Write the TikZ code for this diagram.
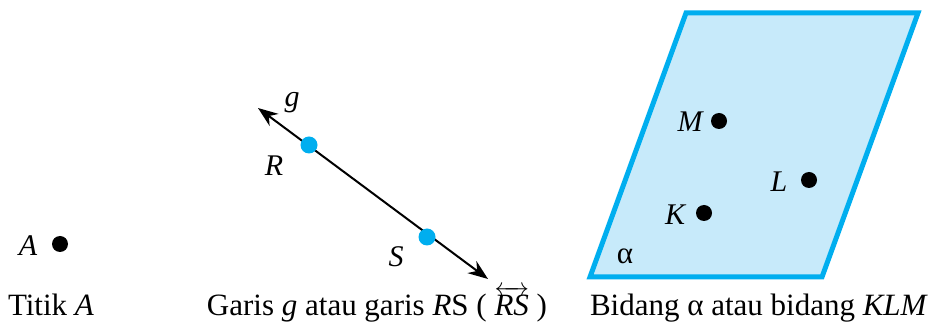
\documentclass[tikz,border=0pt]{standalone}
\usepackage{amsmath}
\usepackage{fontspec}
\setmainfont{Liberation Serif}
\usetikzlibrary{arrows.meta}
\definecolor{sky}{RGB}{0,174,239}
\definecolor{skyfill}{RGB}{199,234,250}
\tikzset{
	dot/.style={circle,fill=black,inner sep=0pt,minimum size=16pt},
	bluedot/.style={circle,fill=sky,inner sep=0pt,minimum size=17pt},
	lbl/.style={font=\fontsize{30}{34}\selectfont\itshape,inner sep=0pt},
	caption/.style={anchor=base,inner sep=0pt}
}

\begin{document}
\begin{tikzpicture}[x=1pt,y=-1pt,line width=2.5pt,font=\fontsize{31}{36}\selectfont]
\useasboundingbox (0,0) rectangle (932,328);

% point
\node[dot] (A) at (60,244) {};
\node[lbl] (a) at (28,246) {A};

% line
\coordinate (g1) at (258,108);
\coordinate (g2) at (488,279);
\draw[{Stealth[length=20pt,width=15pt]}-{Stealth[length=20pt,width=15pt]},line width=2pt] (g1)--(g2);
\node[bluedot] (R) at (309,145) {};
\node[bluedot] (S) at (427,237) {};
\node[lbl] (g) at (292,103) {g};
\node[lbl] (r) at (274,166) {R};
\node[lbl] (s) at (396,257) {S};

% plane
\coordinate (p1) at (590,277);
\coordinate (p2) at (822,277);
\coordinate (p3) at (918,13);
\coordinate (p4) at (686,13);
\draw[sky,fill=skyfill,line width=5pt] (p1)--(p2)--(p3)--(p4)--cycle;
\node[dot] (M) at (719,121) {};
\node[dot] (L) at (809,180) {};
\node[dot] (K) at (704,213) {};
\node[lbl] (m) at (690,122) {M};
\node[lbl] (l) at (779,182) {L};
\node[lbl] (k) at (675,215) {K};
\node[inner sep=0pt] (al) at (625,256) {α};

% captions
\node[caption] (c1) at (51,316) {Titik \textit{A}};
\node[caption] (c2) at (377,316) {Garis \textit{g} atau garis \textit{R}S ( $\overleftrightarrow{\textit{RS}}$ )};
\node[caption] (c3) at (759,316) {Bidang α atau bidang \textit{KLM}};
\end{tikzpicture}
\end{document}
